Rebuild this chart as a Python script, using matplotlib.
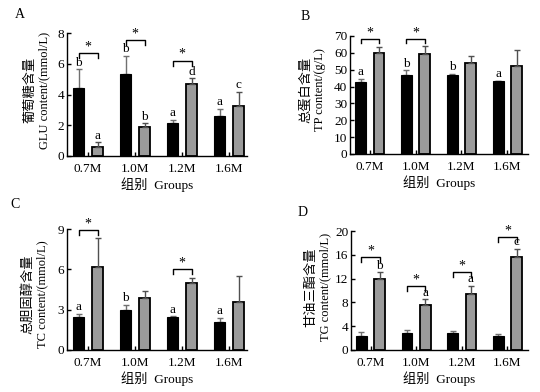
import matplotlib
matplotlib.use('Agg')
import matplotlib.pyplot as plt
import numpy as np

groups = ['0.7M', '1.0M', '1.2M', '1.6M']

# A: glucose
glu_black = [4.45, 5.35, 2.13, 2.63]
glu_black_sd = [1.20, 1.15, 0.22, 0.42]
glu_gray = [0.61, 1.90, 4.67, 3.28]
glu_gray_sd = [0.27, 0.23, 0.38, 0.90]
glu_black_let = ['b', 'b', 'a', 'a']
glu_gray_let = ['a', 'b', 'd', 'c']
glu_stars = [(0, 6.7), (1, 7.55), (2, 6.2)]

# B: total protein
tp_black = [42.7, 47.1, 47.1, 43.1]
tp_black_sd = [1.8, 2.6, 0.5, 0.4]
tp_gray = [60.0, 59.4, 53.8, 52.0]
tp_gray_sd = [3.6, 4.6, 4.6, 9.5]
tp_black_let = ['a', 'b', 'b', 'a']
tp_gray_let = ['', '', '', '']
tp_stars = [(0, 68.5), (1, 68.5)]

# C: total cholesterol
tc_black = [2.45, 2.98, 2.43, 2.08]
tc_black_sd = [0.25, 0.40, 0.07, 0.32]
tc_gray = [6.20, 3.85, 4.96, 3.60]
tc_gray_sd = [2.15, 0.55, 0.37, 1.90]
tc_black_let = ['a', 'b', 'a', 'a']
tc_gray_let = ['', '', '', '']
tc_stars = [(0, 8.9), (2, 6.0)]

# D: triglyceride
tg_black = [2.39, 2.89, 2.89, 2.28]
tg_black_sd = [0.66, 0.55, 0.33, 0.40]
tg_gray = [11.95, 7.55, 9.44, 15.67]
tg_gray_sd = [1.10, 0.95, 1.40, 1.33]
tg_black_let = ['', '', '', '']
tg_gray_let = ['b', 'a', 'a', 'c']
tg_stars = [(0, 15.6), (1, 10.8), (2, 13.1), (3, 19.0)]

SERIF = ['Liberation Serif', 'Noto Sans CJK SC']
CJK = ['Noto Sans CJK SC', 'DejaVu Sans']
W, H = 540, 392

fig = plt.figure(figsize=(5.4, 3.92), dpi=100)


def px_axes(x0, y_top, x1, y_bot):
    return fig.add_axes([x0 / W, 1 - y_bot / H, (x1 - x0) / W, (y_bot - y_top) / H])


def panel(ax, black, black_sd, gray, gray_sd, blet, glet, stars, ymax, yticks, xlim):
    x = np.arange(len(groups))
    off, bw = 0.2, 0.235
    ax.bar(x - off, black, bw, color='black', edgecolor='black', linewidth=0.8, zorder=2)
    ax.bar(x + off, gray, bw, color='#9b9b9b', edgecolor='black', linewidth=1.3, zorder=2)
    ax.errorbar(x - off, black, yerr=[np.zeros(4), black_sd], fmt='none',
                ecolor='#707070', elinewidth=1, capsize=2.5, zorder=1)
    ax.errorbar(x + off, gray, yerr=[np.zeros(4), gray_sd], fmt='none',
                ecolor='#505050', elinewidth=1, capsize=2.5, zorder=3)
    rng = ymax
    for i in range(4):
        if blet[i]:
            ax.text(x[i] - off, black[i] + black_sd[i] + 0.005 * rng, blet[i],
                    ha='center', va='bottom', fontsize=9.5, family=SERIF)
        if glet[i]:
            ax.text(x[i] + off, gray[i] + gray_sd[i] + 0.005 * rng, glet[i],
                    ha='center', va='bottom', fontsize=9.5, family=SERIF)
    for g, y in stars:
        h = 0.04 * rng
        ax.plot([g - off, g - off, g + off, g + off], [y - h, y, y, y - h],
                color='black', lw=1, clip_on=False)
        ax.text(g, y + 0.05 * rng, '*', ha='center', va='center',
                fontsize=10, family=SERIF, clip_on=False)
    ax.set_ylim(0, ymax)
    ax.set_yticks(yticks)
    ax.set_xlim(*xlim)
    ax.set_xticks(x)
    ax.set_xticklabels(groups)
    for lab in ax.get_xticklabels() + ax.get_yticklabels():
        lab.set_family(SERIF)
        lab.set_fontsize(9.5)
    ax.tick_params(axis='x', direction='in', length=3, width=1, pad=5)
    ax.tick_params(axis='y', direction='in', length=3, width=1, pad=2)
    ax.spines['top'].set_visible(False)
    ax.spines['right'].set_visible(False)
    ax.spines['left'].set_linewidth(1)
    ax.spines['bottom'].set_linewidth(1)
    ax.set_xlabel('组别  Groups', family=SERIF, fontsize=9.5, labelpad=2)


def ylabels(cn, en, x_cn, x_en, y_c):
    fig.text(x_cn / W, 1 - y_c / H, cn, rotation=90, ha='center', va='center',
             family=CJK, fontsize=9.5)
    fig.text(x_en / W, 1 - y_c / H, en, rotation=90, ha='center', va='center',
             family=SERIF, fontsize=9)


axA = px_axes(67, 33, 247, 156)
panel(axA, glu_black, glu_black_sd, glu_gray, glu_gray_sd, glu_black_let, glu_gray_let,
      glu_stars, 8, [0, 2, 4, 6, 8], (-0.45, 3.38))
ylabels('葡萄糖含量', 'GLU content/(mmol/L)', 30, 44, 90)

axB = px_axes(350, 36, 528, 154)
panel(axB, tp_black, tp_black_sd, tp_gray, tp_gray_sd, tp_black_let, tp_gray_let,
      tp_stars, 70, list(range(0, 71, 10)), (-0.43, 3.45))
ylabels('总蛋白含量', 'TP content/(g/L)', 305, 320, 90)

axC = px_axes(67, 229, 247, 350)
panel(axC, tc_black, tc_black_sd, tc_gray, tc_gray_sd, tc_black_let, tc_gray_let,
      tc_stars, 9, [0, 3, 6, 9], (-0.45, 3.38))
ylabels('总胆固醇含量', 'TC content/(mmol/L)', 28, 42, 294)

axD = px_axes(351, 231, 528, 350)
panel(axD, tg_black, tg_black_sd, tg_gray, tg_gray_sd, tg_black_let, tg_gray_let,
      tg_stars, 20, [0, 4, 8, 12, 16, 20], (-0.43, 3.45))
ylabels('甘油三酯含量', 'TG content/(mmol/L)', 311, 325, 287)

for lbl, (px, py) in zip('ABCD', [(20, 15), (305, 17), (15, 204), (303, 213)]):
    fig.text(px / W, 1 - py / H, lbl, ha='center', va='center', family=SERIF, fontsize=10)

fig.savefig('out.png', dpi=100)
